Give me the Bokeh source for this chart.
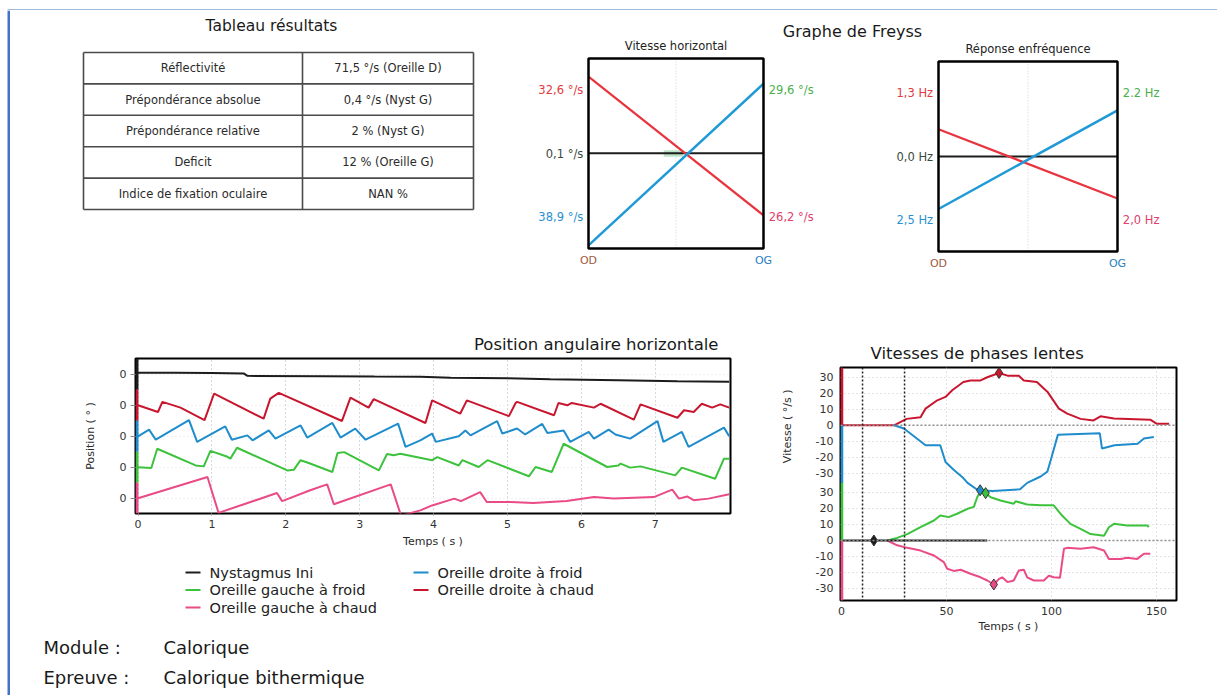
from bokeh.plotting import figure
from bokeh.layouts import column, row
from bokeh.models import Range1d, FixedTicker, Span
from bokeh.core.properties import value
from bokeh.embed import file_html
from bokeh.resources import INLINE

FONT = "DejaVu Sans"

# ------------------------------------------------------------------ data
TABLE_TITLE = "Tableau résultats"
TABLE_LABELS = ["Réflectivité", "Prépondérance absolue", "Prépondérance relative",
                "Deficit", "Indice de fixation oculaire"]
TABLE_VALUES = ["71,5 °/s (Oreille D)", "0,4 °/s (Nyst G)", "2 % (Nyst G)",
                "12 % (Oreille G)", "NAN %"]

FREYSS_TITLE = "Graphe de Freyss"
FREYSS_SIDES = ["OD", "OG"]

VH_TITLE = "Vitesse horizontal"
VH_RED = [32.6, -26.2]
VH_BLUE = [-38.9, 29.6]
VH_ZERO = 0.1
VH_LEFT_LABELS = ["32,6 °/s", "0,1 °/s", "38,9 °/s"]
VH_RIGHT_LABELS = ["29,6 °/s", "26,2 °/s"]

FR_TITLE = "Réponse enfréquence"
FR_RED = [1.3, -2.0]
FR_BLUE = [-2.5, 2.2]
FR_ZERO = 0.0
FR_LEFT_LABELS = ["1,3 Hz", "0,0 Hz", "2,5 Hz"]
FR_RIGHT_LABELS = ["2.2 Hz", "2,0 Hz"]

POS_TITLE = "Position angulaire horizontale"
POS_XTICKS = [0, 1, 2, 3, 4, 5, 6, 7]
POS_T_BLACK = [0.0, 0.5, 1.0, 1.43, 1.48, 2.5, 3.2, 3.82, 4.23, 5.0, 5.58, 6.5, 7.3, 8.0]
POS_V_BLACK = [0.5, 0.5, 0.4, 0.3, -0.5, -0.6, -0.7, -0.75, -1.1, -1.3, -1.6, -1.9, -2.2, -2.4]
POS_T_RED = [0.0, 0.27, 0.33, 0.575, 0.90, 1.03, 1.70, 1.79, 1.905, 2.76, 2.875, 3.12, 3.19,
             3.89, 3.98, 4.36, 4.45, 5.02, 5.11, 5.13, 5.63, 5.69, 5.81, 5.87, 6.17, 6.26,
             6.71, 6.80, 7.30, 7.39, 7.52, 7.63, 7.77, 7.88, 8.0]
POS_V_RED = [0, -2.15, 1.1, -0.75, -4.8, 3.8, -4.3, 2.15, 4.0, -5.05, 2.5, -0.75, 2.0,
             -5.7, 1.6, -2.7, 1.6, -3.5, 0.75, 1.1, -3.2, 0.75, 0, 0.75, -0.75, 0.5,
             -4.6, 0.3, -4.0, -1.6, -2.15, 0.5, -0.75, 0.3, -0.75]
POS_T_BLUE = [0, 0.15, 0.24, 0.69, 0.80, 1.18, 1.27, 1.48, 1.55, 1.77, 1.86, 2.20, 2.29,
              2.63, 2.74, 2.94, 3.08, 3.52, 3.62, 3.82, 3.98, 4.03, 4.34, 4.43, 4.50, 4.86,
              4.93, 5.13, 5.24, 5.47, 5.54, 5.76, 5.85, 6.10, 6.17, 6.37, 6.46, 6.66, 7.03,
              7.11, 7.36, 7.45, 7.93, 8.0]
POS_V_BLUE = [0, 2.15, -1.1, 5.2, -1.8, 3.2, -1.1, 0.3, -1.3, 1.9, -0.75, 3.5, -0.4,
              4.3, -0.4, 2.5, -1.1, 4.1, -3.4, -1.3, 0.9, -1.8, 0, 1.9, 0.3, 4.9,
              0.9, 2.5, 0.6, 4.0, 1.1, 1.9, -1.8, 1.4, -0.75, 2.15, 0.6, -0.75, 4.9,
              -1.8, 1.4, -3.4, 2.8, 0]
POS_T_GREEN = [0, 0.18, 0.26, 0.78, 0.89, 0.98, 1.20, 1.25, 1.34, 2.02, 2.11, 2.20, 2.31,
               2.63, 2.70, 2.79, 3.26, 3.37, 3.46, 3.55, 3.98, 4.05, 4.34, 4.39, 4.61,
               4.73, 5.29, 5.38, 5.60, 5.76, 6.35, 6.50, 6.53, 6.66, 6.80, 7.27, 7.36,
               7.81, 7.93, 8.0]
POS_V_GREEN = [0, -0.2, 6.0, 0.6, 0.3, 5.3, 3.5, 2.8, 6.3, -1.0, -0.75, 2.3, 1.4,
               -1.5, 4.6, 4.9, -1.0, 4.3, 3.9, 4.4, 2.3, 3.3, 0.6, 2.3, 0.1,
               2.3, -2.9, 0.1, -1.5, 7.6, 0.1, 0.6, 1.2, -0.1, 0.3, -2.6, -0.1,
               -3.7, 2.8, 2.8]
POS_T_PINK = [0, 0.94, 1.09, 1.88, 1.95, 2.33, 2.56, 2.65, 3.42, 3.56, 3.82, 3.98, 4.28,
              4.37, 4.63, 4.72, 5.04, 5.35, 5.80, 6.17, 6.44, 6.98, 7.23, 7.32, 7.43,
              7.52, 7.72, 8.0]
POS_V_PINK = [0, 6.9, -4.7, 1.7, -0.9, 2.6, 4.5, -1.9, 4.5, -5.6, -3.9, -2.3, -0.1,
              -0.9, 2.0, -1.2, -1.2, -1.5, -0.9, 0.4, -0.1, 0.4, 2.8, -0.1, 0.6,
              -0.6, -0.1, 1.3]

LEGEND_NAMES = ["Nystagmus Ini", "Oreille droite à froid", "Oreille gauche à froid",
                "Oreille droite à chaud", "Oreille gauche à chaud"]

VIT_TITLE = "Vitesses de phases lentes"
VIT_YLABEL = "Vitesse ( °/s )"
VIT_XTICKS = [0, 50, 100, 150]
VIT_YTICKS = [-30, -20, -10, 0, 10, 20, 30]
VIT_STIM = [10, 30]
VIT_T_RED = [0, 25, 31, 37.6, 40, 45.6, 49.5, 52.7, 58, 61.4, 66.2, 69.4, 75, 79, 84.4,
             86.8, 93, 98, 103.5, 107.5, 113.8, 120, 123.3, 129.7, 147, 150, 156]
VIT_V_RED = [0, 0, 4, 5, 10.4, 15.6, 17.7, 21.9, 27, 28, 28, 30, 32.7, 31, 31,
             28, 27, 21, 10.4, 7.3, 4, 3, 5.6, 4.2, 3.5, 1, 1]
VIT_T_BLUE = [25, 29.7, 40, 47, 49.5, 53.5, 58, 60, 65, 72, 85, 88.4, 94.8, 98, 100,
              103, 123, 124, 130, 141, 144, 148.7]
VIT_V_BLUE = [0, -2, -12.5, -12.5, -23, -28, -33, -36, -40.6, -41, -40, -36, -32, -29,
              -20, -6, -5, -14.5, -12.5, -11.5, -8.3, -7.3]
VIT_T_GREEN = [21.8, 26.5, 31.3, 37.6, 44, 47, 51, 55, 60, 63, 64.6, 66.2, 68.6, 71, 75.7,
               82, 82.9, 88.4, 94.8, 101, 105, 109, 113.8, 118.6, 125, 127.3, 129.7, 136,
               145.6, 146.3]
VIT_V_GREEN = [0, 1.6, 4, 8.3, 12.5, 15.6, 14.6, 16.7, 19.8, 21, 27, 31, 29.6, 27, 25,
               23, 24.5, 22.5, 22, 22, 15.6, 10.4, 7.3, 4, 3, 8.3, 10.4, 9.4, 9.4, 8.3]
VIT_T_PINK = [21.8, 26.5, 31.3, 37.6, 44, 48.7, 50.3, 53.5, 56.7, 61.4, 66.2, 69.4, 72.5,
              75, 76.5, 79, 82, 84.4, 86.8, 88.4, 91.6, 96.3, 98.7, 101, 104, 105.9,
              107.5, 113.8, 120, 125, 127.3, 132.9, 136, 140.8, 144, 147]
VIT_V_PINK = [0, -3, -4.6, -6.3, -9.4, -13.5, -17.7, -19, -18.3, -20.8, -23, -25, -27.5,
              -24, -23, -26, -25, -18.8, -18.3, -23, -25, -25, -22, -23, -23.3, -5.2,
              -4.6, -5.2, -4.2, -6.3, -11.5, -11.5, -10.8, -11.5, -8.3, -8.3]
VIT_T_BLACK = [0, 69.4]
VIT_V_BLACK = [0, 0]
VIT_PEAK_T = [75, 66, 68.6, 72.5, 15.4]
VIT_PEAK_V = [32.7, -40.6, 29.6, -27.5, 0]

FOOT_KEYS = ["Module :", "Epreuve :"]
FOOT_VALUES = ["Calorique", "Calorique bithermique"]

# ------------------------------------------------------------------ styles
C_BLACK = "#1c1c1c"
C_RED = "#c8162e"
C_BLUE = "#1f8ccc"
C_GREEN = "#3cc23c"
C_PINK = "#ea4a86"
FRAME_BLUE = "#4472c4"
TXT = "#2a2a2a"


def blank(w, h, xr, yr):
    p = figure(width=w, height=h, x_range=Range1d(*xr), y_range=Range1d(*yr),
               x_axis_type=None, y_axis_type=None, toolbar_location=None,
               output_backend="svg", min_border=0, outline_line_color=None)
    p.background_fill_color = "white"
    p.border_fill_color = "white"
    return p


def txt(p, x, y, s, size, color=TXT, align="left", baseline="middle"):
    p.text(x=x, y=y, text=s, text_font=value(FONT), text_font_size=value(size),
           text_color=color, text_align=align, text_baseline=baseline)


# ---------------------------------------------------------- page frame strips
top_strip = blank(1217, 10, (0, 1217), (10, 0))
top_strip.quad(left=[7], right=[1217], top=[7], bottom=[9.5], fill_color=FRAME_BLUE,
               line_color=None)
left_strip = blank(10, 685, (0, 10), (685, 0))
left_strip.quad(left=[7], right=[9.5], top=[0], bottom=[685], fill_color=FRAME_BLUE,
                line_color=None)

# ---------------------------------------------------------------- table
tab = blank(520, 290, (10, 530), (300, 10))
txt(tab, [271], [25], [TABLE_TITLE], "15.5px", color="#1a1a1a", align="center")
t_left, t_mid, t_right, t_top, row_h = 83, 302, 473, 52, 31.4
n = len(TABLE_LABELS)
ys = [t_top + i * row_h for i in range(n + 1)]
tab.segment(x0=[t_left] * (n + 1), x1=[t_right] * (n + 1), y0=ys, y1=ys,
            line_color="#4a4a4a", line_width=1.6)
tab.segment(x0=[t_left, t_mid, t_right], x1=[t_left, t_mid, t_right],
            y0=[ys[0]] * 3, y1=[ys[-1]] * 3, line_color="#4a4a4a", line_width=1.6)
mids = [t_top + (i + 0.5) * row_h for i in range(n)]
txt(tab, [(t_left + t_mid) / 2] * n, mids, TABLE_LABELS, "11.5px", align="center")
txt(tab, [(t_mid + t_right) / 2] * n, mids, TABLE_VALUES, "11.5px", align="center")

# ---------------------------------------------------------------- Freyss
ftitle = blank(687, 30, (530, 1217), (40, 10))
txt(ftitle, [852], [31], [FREYSS_TITLE], "16px", color="#1a1a1a", align="center")


def freyss(width, x_pad_left, box_w, center_y, scale, limit, title, red, blue, zero,
           left_labels, right_labels, zone=None):
    xr = (-x_pad_left / box_w, (width - x_pad_left) / box_w)
    yr = (-(260 - center_y) / scale, center_y / scale)
    p = blank(width, 260, xr, yr)
    p.segment(x0=[0.5], x1=[0.5], y0=[-limit], y1=[limit], line_color="#d0d0d0",
              line_dash="1 2", line_width=1)
    if zone is not None:
        p.quad(left=[zone[0]], right=[zone[1]], bottom=[zone[2]], top=[zone[3]],
               fill_color="#8fd4a0", fill_alpha=0.6, line_color=None)
    p.line(x=[0, 1], y=[zero, zero], line_color=C_BLACK, line_width=2)
    p.line(x=[0, 1], y=red, line_color="#e8343e", line_width=2.2)
    p.line(x=[0, 1], y=blue, line_color="#1f9ad6", line_width=2.5)
    p.quad(left=[0], right=[1], bottom=[-limit], top=[limit], fill_color=None,
           line_color="black", line_width=2.5)
    lab_y = 0.67 * limit
    txt(p, [-0.03] * 3, [lab_y, 0, -lab_y], left_labels, "11.5px",
        color=["#e03a3e", "#3a4a40", "#2a8fd0"], align="right")
    txt(p, [1.03] * 2, [lab_y, -lab_y], right_labels, "11.5px",
        color=["#4bb04b", "#e0406a"], align="left")
    txt(p, [0.5], [limit + 13 / scale], [title], "11.5px", color="#222222", align="center")
    txt(p, [0, 1], [-limit - 12 / scale] * 2, FREYSS_SIDES, "11px",
        color=["#a05a40", "#2a80c0"], align="center")
    return p


f1 = freyss(360, 58, 175, 113, 2.36, 40.25, VH_TITLE, VH_RED, VH_BLUE, VH_ZERO,
            VH_LEFT_LABELS, VH_RIGHT_LABELS, zone=(0.43, 0.54, -1.4, 1.4))
f2 = freyss(327, 48, 179, 116, 21.0, 4.52, FR_TITLE, FR_RED, FR_BLUE, FR_ZERO,
            FR_LEFT_LABELS, FR_RIGHT_LABELS)

# ------------------------------------------------------- position angulaire
POS_OFFSETS = [40, 30, 20, 10, 0]
pos_series = [(POS_T_BLACK, POS_V_BLACK, C_BLACK), (POS_T_RED, POS_V_RED, C_RED),
              (POS_T_BLUE, POS_V_BLUE, C_BLUE), (POS_T_GREEN, POS_V_GREEN, C_GREEN),
              (POS_T_PINK, POS_V_PINK, C_PINK)]
pos_xr = Range1d(-0.034, 8.018)
pos_yr = Range1d(-4.9, 45.1)
pos = figure(width=750, height=260, x_range=pos_xr, y_range=pos_yr,
             toolbar_location=None, output_backend="svg",
             min_border_left=125, min_border_right=30, min_border_top=58,
             min_border_bottom=47)
pos.title.text = POS_TITLE
pos.title.align = "right"
pos.title.offset = 12
pos.title.text_font = FONT
pos.title.text_font_size = "16.5px"
pos.title.text_font_style = "normal"
pos.title.text_color = "#1a1a1a"
pos.outline_line_color = "black"
pos.outline_line_width = 2
pos.outline_line_alpha = 1
pos.xaxis.ticker = FixedTicker(ticks=POS_XTICKS)
pos.yaxis.ticker = FixedTicker(ticks=POS_OFFSETS)
pos.yaxis.major_label_overrides = {o: "0" for o in POS_OFFSETS}
pos.xaxis.axis_label = "Temps ( s )"
pos.yaxis.axis_label = "Position ( ° )"
for ax in (pos.xaxis[0], pos.yaxis[0]):
    ax.axis_label_text_font = FONT
    ax.axis_label_text_font_size = "11px"
    ax.axis_label_text_font_style = "normal"
    ax.axis_label_text_color = TXT
    ax.major_label_text_font = FONT
    ax.major_label_text_font_size = "11px"
    ax.major_label_text_color = "#333333"
    ax.axis_line_color = None
    ax.minor_tick_line_color = None
    ax.major_tick_line_color = "#888888"
    ax.major_tick_in = 0
pos.xaxis.major_tick_out = 2
pos.yaxis.major_tick_out = 5
pos.xaxis.major_label_standoff = 4
pos.yaxis.major_label_standoff = 4
pos.xaxis.axis_label_standoff = 4
pos.yaxis.axis_label_standoff = 20
pos.xgrid.grid_line_color = "#b0b0b0"
pos.xgrid.grid_line_dash = "1 3"
pos.ygrid.grid_line_color = "#e2e2e2"
pos.ygrid.grid_line_dash = "1 3"
for (tt, vv, col), off in zip(pos_series, POS_OFFSETS):
    pos.line(x=tt, y=[v + off for v in vv], line_color=col, line_width=2)
    pos.segment(x0=[pos_xr.start + 0.02], x1=[pos_xr.start + 0.02],
                y0=[max(off - 5, pos_yr.start)], y1=[min(off + 5, pos_yr.end)],
                line_color=col, line_width=3)

# ------------------------------------------------------- legend + footer
leg = blank(750, 135, (10, 760), (695, 560))
legend_colors = [C_BLACK, C_BLUE, C_GREEN, C_RED, C_PINK]
lx = [185, 413]
for i, (name, col) in enumerate(zip(LEGEND_NAMES, legend_colors)):
    cx = lx[i % 2]
    cy = 572 + (i // 2) * 17.5
    leg.line(x=[cx, cx + 15], y=[cy, cy], line_color=col, line_width=2)
    txt(leg, [cx + 24], [cy], [name], "14.5px", color="#222222")
txt(leg, [43, 43], [647, 677], FOOT_KEYS, "18px", color="#1a1a1a")
txt(leg, [163, 163], [647, 677], FOOT_VALUES, "18px", color="#1a1a1a")

# ------------------------------------------------------- vitesses phases lentes
UPPER = 72
vit_xr = Range1d(-0.5, 159.5)
vit_yr = Range1d(-37.5, 108.1)
vit = figure(width=457, height=395, x_range=vit_xr, y_range=vit_yr,
             toolbar_location=None, output_backend="svg",
             min_border_left=80, min_border_right=41, min_border_top=67,
             min_border_bottom=95)
vit.title.text = VIT_TITLE
vit.title.align = "left"
vit.title.offset = 30
vit.title.text_font = FONT
vit.title.text_font_size = "16.5px"
vit.title.text_font_style = "normal"
vit.title.text_color = "#1a1a1a"
vit.outline_line_color = "black"
vit.outline_line_width = 2
vit.outline_line_alpha = 1
yt = VIT_YTICKS + [t + UPPER for t in VIT_YTICKS]
vit.xaxis.ticker = FixedTicker(ticks=VIT_XTICKS)
vit.yaxis.ticker = FixedTicker(ticks=yt)
vit.yaxis.major_label_overrides = {t: str(t) for t in VIT_YTICKS} | \
    {t + UPPER: str(t) for t in VIT_YTICKS}
vit.xaxis.axis_label = "Temps ( s )"
# the y label belongs to the upper panel: pad its start so it sits centred there
vit.yaxis.axis_label = "\u00a0" * 33 + VIT_YLABEL
for ax in (vit.xaxis[0], vit.yaxis[0]):
    ax.axis_label_text_font = FONT
    ax.axis_label_text_font_size = "11px"
    ax.axis_label_text_font_style = "normal"
    ax.axis_label_text_color = TXT
    ax.major_label_text_font = FONT
    ax.major_label_text_font_size = "11px"
    ax.major_label_text_color = "#333333"
    ax.axis_line_color = None
    ax.minor_tick_line_color = None
    ax.major_tick_line_color = None
    ax.major_tick_in = 0
    ax.major_tick_out = 2
vit.xaxis.major_label_standoff = 4
vit.yaxis.major_label_standoff = 5
vit.yaxis.axis_label_standoff = 19
vit.xaxis.axis_label_standoff = 2
vit.grid.grid_line_color = "#c8c8c8"
vit.grid.grid_line_dash = "1 3"
for loc in (0, UPPER):
    vit.add_layout(Span(location=loc, dimension="width", line_color="#909090",
                        line_dash="2 2", line_width=1.5))
for s in VIT_STIM:
    vit.add_layout(Span(location=s, dimension="height", line_color="#222222",
                        line_dash="2 2", line_width=1.5))
vit_series = [(VIT_T_RED, VIT_V_RED, C_RED, UPPER), (VIT_T_BLUE, VIT_V_BLUE, C_BLUE, UPPER),
              (VIT_T_GREEN, VIT_V_GREEN, C_GREEN, 0), (VIT_T_PINK, VIT_V_PINK, C_PINK, 0),
              (VIT_T_BLACK, VIT_V_BLACK, C_BLACK, 0)]
for tt, vv, col, off in vit_series:
    vit.line(x=tt, y=[v + off for v in vv], line_color=col, line_width=2)
for (tt, vv, col, off), pt, pv in zip(vit_series, VIT_PEAK_T, VIT_PEAK_V):
    vit.scatter(x=[pt], y=[pv + off], marker="diamond", size=11, fill_color=col,
                line_color="#333333", line_width=1)
mid = UPPER / 2
bands = [(UPPER, vit_yr.end, C_RED), (mid, UPPER, C_BLUE), (0, mid, C_GREEN),
         (vit_yr.start, 0, C_PINK)]
for y0, y1, col in bands:
    vit.segment(x0=[vit_xr.start + 0.6], x1=[vit_xr.start + 0.6], y0=[y0], y1=[y1],
                line_color=col, line_width=3)

# ---------------------------------------------------------------- layout
row_a = row(tab, column(ftitle, row(f1, f2)))
row_b = row(column(pos, row(leg)), vit)
root = column(top_strip, row(left_strip, column(row_a, row_b)))

open("out.html", "w").write(file_html(root, INLINE, "Calorique bithermique"))
